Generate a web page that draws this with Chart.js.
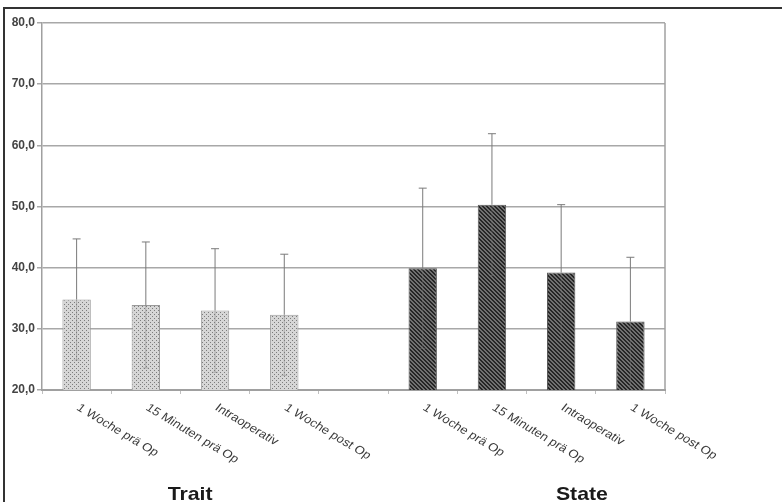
<!DOCTYPE html>
<html>
<head>
<meta charset="utf-8">
<script src="https://cdn.jsdelivr.net/npm/chart.js@4/dist/chart.umd.min.js"></script>
<style>
  body { margin: 0; background: #fff; }
  #wrap { position: relative; width: 782px; height: 502px; overflow: hidden; }
  #frame { position: absolute; left: 3px; top: 7px; width: 800px; height: 520px; border: 2px solid #333; }
  canvas { position: absolute; left: 0; top: 0; }
</style>
</head>
<body>
<div id="wrap">
  <div id="frame"></div>
  <canvas id="chart" width="782" height="502"></canvas>
</div>
<script>
// Data
const categories = [
  "1 Woche prä Op", "15 Minuten prä Op", "Intraoperativ", "1 Woche post Op",
  "",
  "1 Woche prä Op", "15 Minuten prä Op", "Intraoperativ", "1 Woche post Op",
];
const traitMeans = [34.8, 33.9, 33.0, 32.3];
const traitSD = [9.9, 10.3, 10.1, 9.9];
const stateMeans = [39.9, 50.3, 39.2, 31.2];
const stateSD = [13.1, 11.6, 11.1, 10.5];
const groupLabels = ["Trait", "State"];
const yMin = 20;
const yMax = 80;
const yStep = 10;

// Patterns
function makePattern(draw) {
  const tile = document.createElement("canvas");
  tile.width = 4;
  tile.height = 4;
  const c = tile.getContext("2d");
  draw(c);
  return document.getElementById("chart").getContext("2d").createPattern(tile, "repeat");
}

const dotPattern = makePattern(function (c) {
  c.fillStyle = "#d6d6d6";
  c.fillRect(0, 0, 4, 4);
  c.fillStyle = "#7c7c7c";
  c.fillRect(0, 0, 1, 1);
  c.fillRect(2, 2, 1, 1);
});

const hatchPattern = makePattern(function (c) {
  c.fillStyle = "#707070";
  c.fillRect(0, 0, 4, 4);
  c.fillStyle = "#262626";
  for (let i = 0; i < 4; i++) {
    c.fillRect(i, i, 1, 1);
    c.fillRect((i + 1) % 4, i, 1, 1);
  }
});

const gap = Array(categories.length - traitMeans.length).fill(null);
const traitData = traitMeans.concat(gap);
const stateData = gap.concat(stateMeans);
const traitErr = traitSD.concat(gap);
const stateErr = gap.concat(stateSD);

// Plugins
const errorBars = {
  id: "errorBars",
  afterDatasetsDraw(chart) {
    const ctx = chart.ctx;
    const y = chart.scales.y;
    chart.data.datasets.forEach(function (ds, i) {
      const meta = chart.getDatasetMeta(i);
      meta.data.forEach(function (bar, j) {
        const v = ds.data[j];
        if (v === null) return;
        const sd = ds.sd[j];
        const top = y.getPixelForValue(v + sd);
        const low = y.getPixelForValue(v - sd);
        ctx.save();
        ctx.strokeStyle = "#7a7a7a";
        ctx.lineWidth = 1;
        ctx.beginPath();
        ctx.moveTo(bar.x, bar.y);
        ctx.lineTo(bar.x, top);
        ctx.moveTo(bar.x - 4, top);
        ctx.lineTo(bar.x + 4, top);
        ctx.stroke();
        ctx.globalAlpha = 0.45;
        ctx.beginPath();
        ctx.moveTo(bar.x, bar.y);
        ctx.lineTo(bar.x, low);
        ctx.moveTo(bar.x - 3, low);
        ctx.lineTo(bar.x + 3, low);
        ctx.stroke();
        ctx.restore();
      });
    });
  },
};

const labelsAndFrame = {
  id: "labelsAndFrame",
  afterDraw(chart) {
    const ctx = chart.ctx;
    const x = chart.scales.x;
    const area = chart.chartArea;

    // right border of plot
    ctx.save();
    ctx.strokeStyle = "#a0a0a0";
    ctx.lineWidth = 1.5;
    ctx.beginPath();
    ctx.moveTo(area.right, area.top);
    ctx.lineTo(area.right, area.bottom);
    ctx.stroke();
    ctx.restore();

    // slanted category labels (rotated, then stretched like the scan)
    categories.forEach(function (label, i) {
      if (!label) return;
      ctx.save();
      ctx.translate(x.getPixelForValue(i) + 5, x.top + 12);
      ctx.scale(1.15, 1);
      ctx.rotate((34.5 * Math.PI) / 180);
      ctx.font = "11.5px 'Liberation Sans', Arial, sans-serif";
      ctx.fillStyle = "#3a3a3a";
      ctx.textBaseline = "top";
      ctx.textAlign = "left";
      ctx.fillText(label, 0, 0);
      ctx.restore();
    });

    // group labels
    const groupPos = [1.64, 7.3];
    groupLabels.forEach(function (label, i) {
      ctx.save();
      ctx.translate(x.getPixelForValue(groupPos[i]), 500);
      ctx.scale(1.12, 1);
      ctx.font = "bold 19px 'Liberation Sans', Arial, sans-serif";
      ctx.fillStyle = "#1a1a1a";
      ctx.textAlign = "center";
      ctx.textBaseline = "alphabetic";
      ctx.fillText(label, 0, 0);
      ctx.restore();
    });
  },
};

// Chart
const chartConfig = {
  type: "bar",
  data: {
    labels: categories,
    datasets: [
      {
        label: "Trait",
        data: traitData,
        sd: traitErr,
        backgroundColor: dotPattern,
        borderColor: "#9a9a9a",
        borderWidth: 1,
        grouped: false,
        barPercentage: 0.41,
        categoryPercentage: 1,
      },
      {
        label: "State",
        data: stateData,
        sd: stateErr,
        backgroundColor: hatchPattern,
        borderColor: "#5a5a5a",
        borderWidth: 1,
        grouped: false,
        barPercentage: 0.41,
        categoryPercentage: 1,
      },
    ],
  },
  options: {
    responsive: false,
    animation: false,
    devicePixelRatio: 1,
    layout: {
      padding: { top: 23, right: 117, left: 0, bottom: 0 },
    },
    plugins: {
      legend: { display: false },
      tooltip: { enabled: false },
    },
    scales: {
      x: {
        offset: true,
        afterFit: function (scale) {
          scale.height = 112;
        },
        ticks: { display: false },
        grid: {
          display: true,
          drawOnChartArea: false,
          offset: true,
          tickLength: 4,
          color: "#c0c0c0",
        },
        border: { color: "#a0a0a0", width: 2 },
      },
      y: {
        min: yMin,
        max: yMax,
        afterFit: function (scale) {
          scale.width = 42;
        },
        ticks: {
          stepSize: yStep,
          padding: 2,
          color: "#444",
          font: { family: "'Liberation Sans', Arial, sans-serif", size: 12, weight: "bold" },
          callback: function (value) {
            return value.toFixed(1).replace(".", ",");
          },
        },
        grid: {
          color: "#a8a8a8",
          lineWidth: 1.5,
          tickLength: 5,
        },
        border: { color: "#a0a0a0", width: 1.5 },
      },
    },
  },
  plugins: [errorBars, labelsAndFrame],
};

new Chart(document.getElementById("chart"), chartConfig);
</script>
</body>
</html>
